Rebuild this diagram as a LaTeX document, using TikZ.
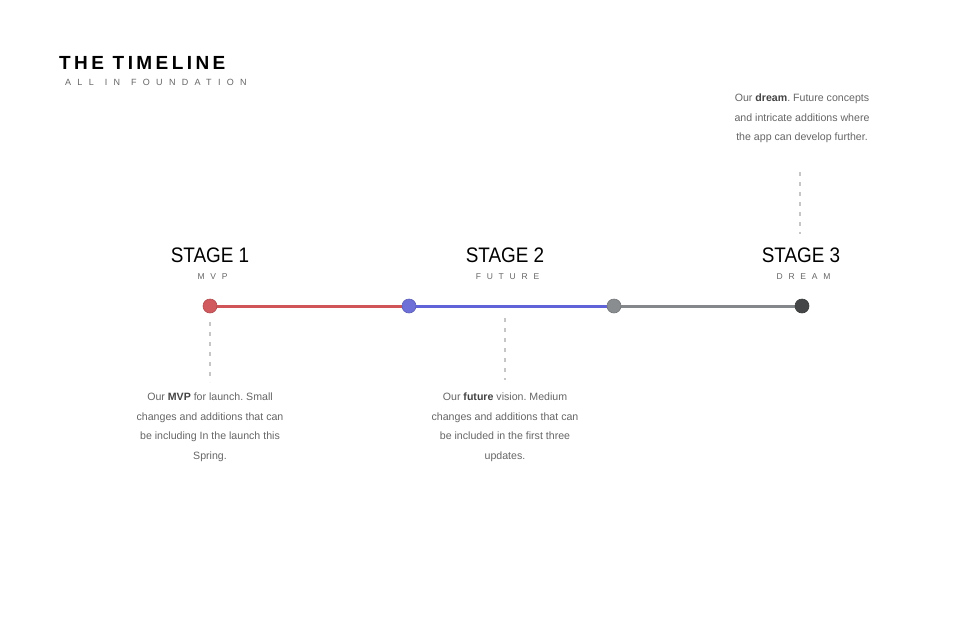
\documentclass[tikz,border=0pt]{standalone}
\usepackage{graphicx}
\usepackage{fontspec}
\setmainfont{Liberation Sans}
\frenchspacing
\definecolor{redc}{HTML}{D05A5E}
\definecolor{redl}{HTML}{CF5558}
\definecolor{bluec}{HTML}{6E70D8}
\definecolor{bluel}{HTML}{6062D8}
\definecolor{grayc}{HTML}{8A8D90}
\definecolor{grayl}{HTML}{85888B}
\definecolor{darkc}{HTML}{444647}
\definecolor{txt}{HTML}{666666}
\definecolor{bold}{HTML}{444444}
\definecolor{dashc}{HTML}{C6C6C6}
\newcommand{\bw}[1]{\textbf{\color{bold}#1}}
\newcommand{\stg}[1]{\scalebox{0.9}[1]{#1}}
\begin{document}
\begin{tikzpicture}[x=1pt,y=-1pt,
  dotnode/.style={circle,minimum size=14pt,inner sep=0pt,draw=#1!85!black,line width=0.6pt,fill=#1},
  seg/.style={line width=3pt,draw=#1},
  conn/.style={draw=dashc,line width=1.2pt,dash pattern=on 4pt off 6pt},
  stagetitle/.style={anchor=base,inner sep=0pt,text=black,font=\fontsize{21}{21}\selectfont},
  stagesub/.style={anchor=base,inner sep=0pt,text=txt,font=\fontsize{8.5}{8.5}\selectfont\addfontfeature{LetterSpace=68}},
  desc/.style={anchor=north,inner sep=0pt,align=center,text=txt,font=\fontsize{10.6}{19.5}\selectfont}
]
\useasboundingbox[fill=white] (0,0) rectangle (960,640);

% title
\node[anchor=base west,inner sep=0pt,text=black,font=\fontsize{19}{19}\selectfont\bfseries\addfontfeature{LetterSpace=18}] (title) at (59,69) {THE TIMELINE};
\node[anchor=base west,inner sep=0pt,text=txt,font=\fontsize{9}{9}\selectfont\addfontfeature{LetterSpace=70}] (subtitle) at (65,85) {ALL\hspace{11pt}IN\hspace{11pt}FOUNDATION};

% stage titles
\node[stagetitle] (s1) at (210,262) {\stg{STAGE 1}};
\node[stagetitle] (s2) at (505,262) {\stg{STAGE 2}};
\node[stagetitle] (s3) at (801,262) {\stg{STAGE 3}};
\node[stagesub] (m1) at (212.5,279) {MVP};
\node[stagesub] (m2) at (507.5,279) {FUTURE};
\node[stagesub] (m3) at (803.5,279) {DREAM};

% timeline
\coordinate (p1) at (210,306);
\coordinate (p2) at (409,306);
\coordinate (p3) at (614,306);
\coordinate (p4) at (802,306);
\draw[seg=redl] (p1) -- (p2);
\draw[seg=bluel] (p2) -- (p3);
\draw[seg=grayl] (p3) -- (p4);
\node[dotnode=redc] (d1) at (p1) {};
\node[dotnode=bluec] (d2) at (p2) {};
\node[dotnode=grayc] (d3) at (p3) {};
\node[dotnode=darkc] (d4) at (p4) {};

% connectors
\coordinate (c1a) at (210,322); \coordinate (c1b) at (210,382);
\coordinate (c2a) at (505,318); \coordinate (c2b) at (505,380);
\coordinate (c3a) at (800,172); \coordinate (c3b) at (800,234);
\draw[conn] (c1a) -- (c1b);
\draw[conn] (c2a) -- (c2b);
\draw[conn] (c3a) -- (c3b);

% descriptions
\node[desc] (t1) at (210,393) {Our \bw{MVP} for launch. Small\\changes and additions that can\\be including In the launch this\\Spring.};
\node[desc] (t2) at (505,393) {Our \bw{future} vision. Medium\\changes and additions that can\\be included in the first three\\updates.};
\node[desc] (t3) at (802,94) {Our \bw{dream}. Future concepts\\and intricate additions where\\the app can develop further.};
\end{tikzpicture}
\end{document}
